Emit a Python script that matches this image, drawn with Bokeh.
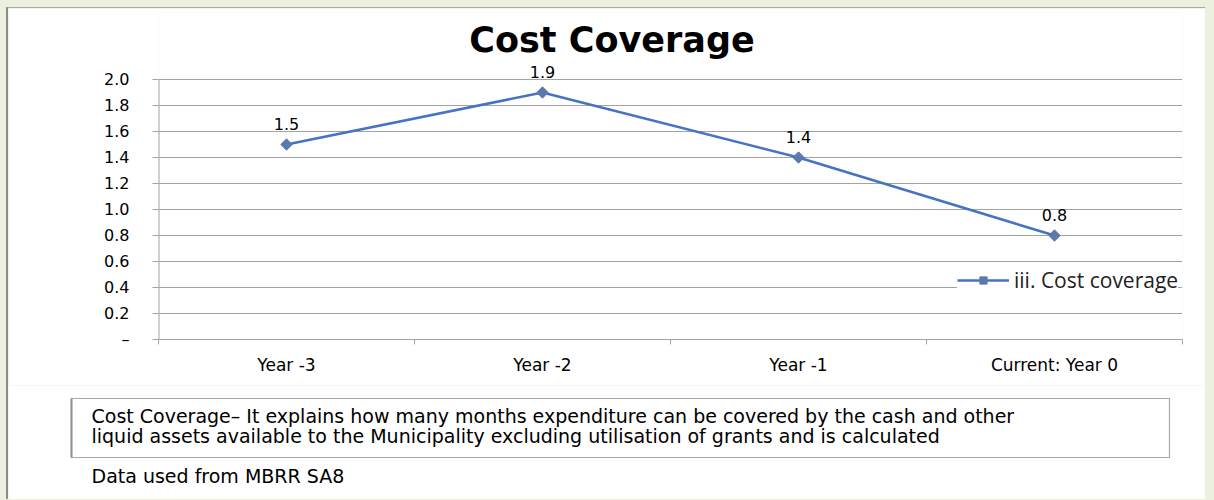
import numpy as np
from bokeh.plotting import figure
from bokeh.layouts import column
from bokeh.models import (Range1d, FixedTicker, Label, LabelSet, Legend, LegendItem,
                          ColumnDataSource)
from bokeh.embed import file_html
from bokeh.resources import INLINE
from bokeh.core.properties import value

# ---------------- data ----------------
categories = ["Year -3", "Year -2", "Year -1", "Current: Year 0"]
cost_coverage = [1.5, 1.9, 1.4, 0.8]
y_ticks = [0.0, 0.2, 0.4, 0.6, 0.8, 1.0, 1.2, 1.4, 1.6, 1.8, 2.0]
y_tick_labels = ["\u2013", "0.2", "0.4", "0.6", "0.8", "1.0", "1.2", "1.4", "1.6", "1.8", "2.0"]
series_name = "iii. Cost coverage"
title_text = "Cost Coverage"
note_lines = [
    "Cost Coverage\u2013 It explains how many months expenditure can be covered by the  cash and other",
    "liquid assets available to the Municipality excluding utilisation of grants and is calculated",
]
source_note = "Data used from MBRR SA8"

# ---------------- layout (page pixels) ----------------
PAD = 8                      # page padding (top/left), green surround
W = 1197                     # figure width
H_MAIN = 377                 # page y 8 .. 385
H_NOTE = 114                 # page y 385 .. 499
F_LEFT, F_RIGHT = 158, 1182  # plot frame, page x
F_TOP, Y0_PX, YMAX_PX = 12, 339, 79   # frame top, y of value 0, y of top tick
FONT = "DejaVu Sans"
LINE_C = "#4673c3"
MARK_C = "#5b79aa"
GRID_C = "#a3a3a3"
TEXT_C = "#000000"

n = len(categories)
ymax = y_ticks[-1]
px_per_unit = (Y0_PX - YMAX_PX) / ymax
y_end = ymax + (YMAX_PX - F_TOP) / px_per_unit


def dx(px):
    return (px - F_LEFT) / (F_RIGHT - F_LEFT) * n


def dy(py):
    return (Y0_PX - py) / px_per_unit


p = figure(width=W, height=H_MAIN, output_backend="svg", toolbar_location=None,
           x_range=Range1d(0, n), y_range=Range1d(0, y_end),
           min_border_left=F_LEFT - PAD, min_border_right=PAD + W - F_RIGHT,
           min_border_top=F_TOP - PAD, min_border_bottom=PAD + H_MAIN - Y0_PX)
p.frame_align = False
p.outline_line_color = None
p.background_fill_color = "white"
p.border_fill_color = "white"

xs = np.arange(n) + 0.5
src = ColumnDataSource(dict(x=xs, y=cost_coverage,
                            lbl=[f"{v:.1f}" for v in cost_coverage]))

# x axis: labels at band centres, tick marks at band boundaries
xa = p.xaxis[0]
xa.ticker = FixedTicker(ticks=list(xs), minor_ticks=list(range(n + 1)))
xa.major_label_overrides = {float(x): c for x, c in zip(xs, categories)}
xa.major_tick_out = 0
xa.major_tick_in = 0
xa.minor_tick_out = 5
xa.minor_tick_in = 0
xa.minor_tick_line_color = GRID_C
xa.axis_line_color = GRID_C
xa.major_label_standoff = 10
xa.major_label_text_font = FONT
xa.major_label_text_font_size = "17px"
xa.major_label_text_color = TEXT_C

ya = p.yaxis[0]
ya.ticker = FixedTicker(ticks=y_ticks, minor_ticks=[])
ya.major_label_overrides = {t: l for t, l in zip(y_ticks, y_tick_labels)}
ya.major_tick_out = 6
ya.major_tick_in = 0
ya.major_tick_line_color = GRID_C
ya.axis_line_color = None
ya.major_label_standoff = 23
ya.major_label_text_font = FONT
ya.major_label_text_font_size = "16px"
ya.major_label_text_color = TEXT_C

p.xgrid.visible = False
p.ygrid.ticker = FixedTicker(ticks=y_ticks, minor_ticks=[])
p.ygrid.grid_line_color = GRID_C
p.ygrid.grid_line_width = 1

# vertical axis line only up to the top tick
p.segment(x0=[0], y0=[0], x1=[0], y1=[ymax], line_color=GRID_C, line_width=2)

# series
ln = p.line("x", "y", source=src, line_color=LINE_C, line_width=2.6)
mk = p.scatter("x", "y", source=src, marker="square", angle=np.pi / 4, size=8,
               fill_color=MARK_C, line_color=MARK_C)

# data labels
labels = LabelSet(x="x", y="y", text="lbl", source=src, text_align="center",
                  text_baseline="middle", y_offset=21,
                  text_font=value(FONT), text_font_size="16px", text_color=TEXT_C)
p.add_layout(labels)

# legend
legend = Legend(items=[LegendItem(label=series_name, renderers=[ln, mk])],
                location=(799, 45), margin=0, padding=3, spacing=0,
                glyph_width=52, glyph_height=18, label_standoff=5,
                label_text_font="Open Sans", label_text_font_size="21px",
                label_text_color="#222222", background_fill_color="white",
                background_fill_alpha=1.0, border_line_color=None)
p.add_layout(legend)

# title
p.add_layout(Label(x=dx(611.5), y=dy(39), text=title_text, text_align="center",
                   text_baseline="middle", text_font=FONT, text_font_size="35px",
                   text_font_style="bold", text_color=TEXT_C))

# ---------------- note panel (page pixel coordinates) ----------------
q = figure(width=W, height=H_NOTE, output_backend="svg", toolbar_location=None,
           x_range=Range1d(PAD, PAD + W), y_range=Range1d(PAD + H_MAIN + H_NOTE, PAD + H_MAIN),
           x_axis_type=None, y_axis_type=None,
           min_border_left=0, min_border_right=0, min_border_top=0, min_border_bottom=0)
q.frame_align = False
q.outline_line_color = None
q.grid.visible = False
q.background_fill_color = "white"
q.border_fill_color = "white"

q.quad(left=[71], right=[1169], top=[398], bottom=[457],
       fill_color="white", line_color="#a8a8a8", line_width=1.2)
q.segment(x0=[71], y0=[398], x1=[71], y1=[457], line_color="#8f8f8f", line_width=2)
q.text(x=[91] * len(note_lines), y=[415, 435], text=note_lines,
       text_align="left", text_baseline="middle",
       text_font=value(FONT), text_font_size="19px", text_color=TEXT_C)
q.text(x=[91], y=[475], text=[source_note], text_align="left", text_baseline="middle",
       text_font=value(FONT), text_font_size="19px", text_color=TEXT_C)

layout = column(p, q, spacing=0,
                styles={"border-left": "2px solid #8c8c8c", "border-top": "1px solid #a6a6a6"})

html = file_html(layout, INLINE)
css = ("<style>html, body { background: #ebf1de !important; }"
       " body { padding: 7px 0 0 6px !important; box-sizing: border-box !important; }</style>")
html = html.replace("</head>", css + "</head>", 1)
open("out.html", "w").write(html)
